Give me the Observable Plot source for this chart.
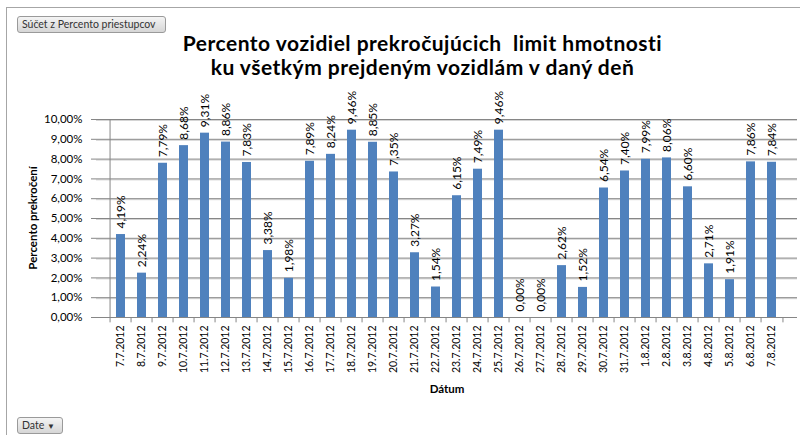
<!DOCTYPE html>
<html>
<head>
<meta charset="utf-8">
<script src="https://cdn.jsdelivr.net/npm/d3@7"></script>
<script src="https://cdn.jsdelivr.net/npm/@observablehq/plot@0.6"></script>
<style>
  html, body { margin: 0; padding: 0; background: #fff; }
  #wrap { position: relative; width: 800px; height: 435px; overflow: hidden; font-family: Lato, sans-serif; }
  #frame { position: absolute; left: 6px; top: 7px; width: 900px; height: 600px; border: 1px solid #a6a6a6; box-sizing: border-box; }
  #chart { position: absolute; left: 0; top: 0; }
  .tl { position: absolute; left: 0; width: 845px; text-align: center; font-weight: bold; font-size: 21px; line-height: 24px; height: 24px; letter-spacing: 0.5px; color: #000; white-space: pre; }
  #ytitle { position: absolute; left: 32px; top: 218px; transform: translate(-50%, -50%) rotate(-90deg); font-weight: bold; font-size: 11.5px; white-space: nowrap; color: #000; }
  .btn { position: absolute; height: 17px; box-sizing: border-box; border: 1px solid #9a9a9a; border-radius: 3px;
         background: linear-gradient(#f4f4f4, #d6d6d6); font-size: 10.5px; line-height: 15px; color: #333; padding: 0 4px; white-space: nowrap; }
</style>
</head>
<body>
<div id="wrap">
  <div id="frame"></div>
  <div id="chart"></div>
  <div class="tl" style="top:31px">Percento vozidiel prekročujúcich  limit hmotnosti</div>
  <div class="tl" style="top:55px">ku všetkým prejdeným vozidlám v daný deň</div>
  <div id="ytitle"></div>
  <div class="btn" style="left:17px;top:16px;width:149px;">Súčet z Percento priestupcov</div>
  <div class="btn" style="left:17px;top:417px;width:46px;">Date <span style="font-size:8px">&#9660;</span></div>
</div>
<script>
const dates = ["7.7.2012","8.7.2012","9.7.2012","10.7.2012","11.7.2012","12.7.2012","13.7.2012","14.7.2012",
  "15.7.2012","16.7.2012","17.7.2012","18.7.2012","19.7.2012","20.7.2012","21.7.2012","22.7.2012",
  "23.7.2012","24.7.2012","25.7.2012","26.7.2012","27.7.2012","28.7.2012","29.7.2012","30.7.2012",
  "31.7.2012","1.8.2012","2.8.2012","3.8.2012","4.8.2012","5.8.2012","6.8.2012","7.8.2012"];
const values = [4.19,2.24,7.79,8.68,9.31,8.86,7.83,3.38,
  1.98,7.89,8.24,9.46,8.85,7.35,3.27,1.54,
  6.15,7.49,9.46,0.00,0.00,2.62,1.52,6.54,
  7.40,7.99,8.06,6.60,2.71,1.91,7.86,7.84];
const yTicks = [0,1,2,3,4,5,6,7,8,9,10];
const titleY = "Percento prekročení";
const titleX = "Dátum";

document.getElementById("ytitle").textContent = titleY;

const data = dates.map((d, i) => ({date: d, value: values[i]}));
const fmt = v => v.toFixed(2).replace(".", ",") + "%";

const W = 800, H = 435, mL = 96, mR = 3, mT = 119, mB = 118;
const step = (W - mL - mR) / dates.length;
const grid = "#868686";

const chart = Plot.plot({
  width: W, height: H,
  marginLeft: mL, marginRight: mR, marginTop: mT, marginBottom: mB,
  style: {fontFamily: "Lato, sans-serif", fontSize: "11px", background: "transparent", color: "#000", overflow: "visible"},
  x: {domain: dates, paddingInner: 0.57, paddingOuter: 0.285, axis: null},
  y: {domain: [0, 10], axis: null},
  marks: [
    Plot.ruleY(yTicks.slice(1), {y: d => d, stroke: "#d4d4d4", dy: 1}),
    Plot.ruleY(yTicks.slice(1), {y: d => d, stroke: grid}),
    Plot.barY(data, {x: "date", y: "value", fill: "#4F81BD"}),
    Plot.ruleY([0], {stroke: grid}),
    Plot.ruleX([dates[0]], {x: d => d, y1: 0, y2: 10, dx: -step / 2, stroke: grid}),
    Plot.ruleX(dates, {x: d => d, y1: 0, y2: -0.27, dx: -step / 2, stroke: grid}),
    Plot.ruleX([dates[dates.length - 1]], {x: d => d, y1: 0, y2: -0.27, dx: step / 2, stroke: grid}),
    Plot.axisY({ticks: yTicks, tickFormat: fmt, tickSize: 5, tickPadding: 9, stroke: grid, label: null, fontSize: 11.5}),
    Plot.axisX({tickRotate: -90, tickSize: 0, tickPadding: 8, label: null, fontSize: 10.5}),
    Plot.text(data, {x: "date", y: "value", text: d => fmt(d.value), rotate: -90, textAnchor: "start", dy: -6, fontSize: 12, fill: "#000"}),
    Plot.text([titleX], {text: d => d, frameAnchor: "bottom", dy: 75, fontWeight: "bold", fontSize: 11.5})
  ]
});
document.getElementById("chart").appendChild(chart);
</script>
</body>
</html>
